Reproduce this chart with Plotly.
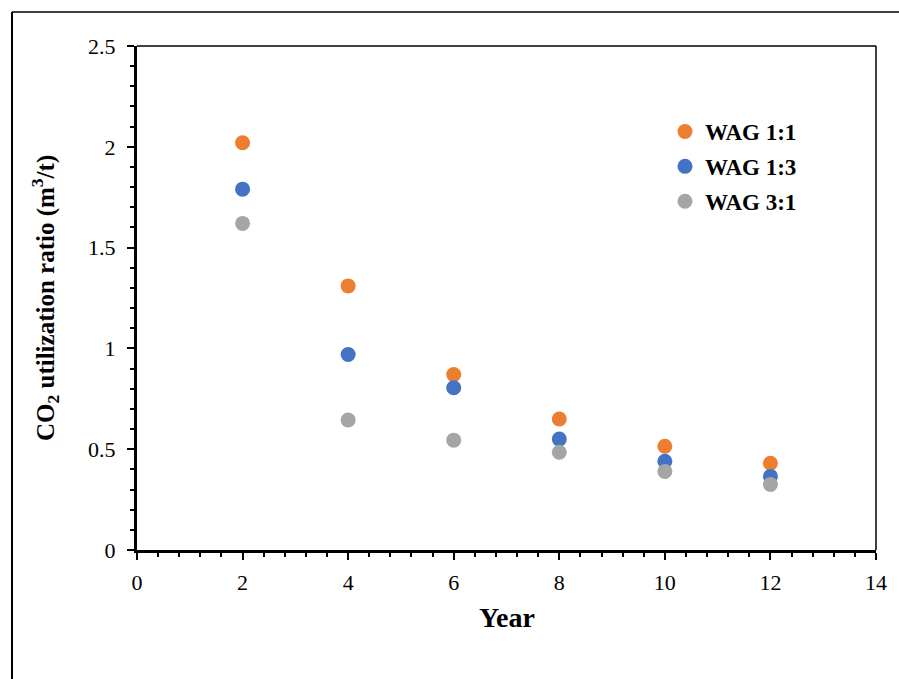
import plotly.graph_objects as go

# Simulation output: CO2 utilization ratio per injection year
years = [2, 4, 6, 8, 10, 12]
wag_1_1 = [2.02, 1.31, 0.87, 0.65, 0.515, 0.43]
wag_1_3 = [1.79, 0.97, 0.805, 0.55, 0.44, 0.365]
wag_3_1 = [1.62, 0.645, 0.545, 0.485, 0.39, 0.325]

series_names = ["WAG 1:1", "WAG 1:3", "WAG 3:1"]
series_values = [wag_1_1, wag_1_3, wag_3_1]
series_colors = ["#ED7D31", "#4472C4", "#A5A5A5"]

W, H = 899, 679
L, R, T, B = 137, 23, 46, 129
pw, ph = W - L - R, H - T - B

FONT = "Liberation Serif"

fig = go.Figure()
for i, (name, vals, col) in enumerate(zip(series_names, series_values, series_colors)):
    fig.add_trace(go.Scatter(
        x=years, y=vals, mode="markers", name=name,
        legendgroup=f"g{i}",
        marker=dict(size=15, color=col, line=dict(width=0)),
        cliponaxis=False,
    ))

axis_common = dict(
    showgrid=False, zeroline=False, showline=True, linecolor="black",
    linewidth=3, ticks="outside", ticklen=7, tickwidth=1.5, tickcolor="black",
    tickfont=dict(family=FONT, size=22, color="black"),
)

fig.update_xaxes(
    range=[0, 14], dtick=2, tick0=0,
    minor=dict(dtick=0.4, tick0=0, ticks="outside", ticklen=4, tickwidth=1.5, tickcolor="black"),
    ticklabelstandoff=4,
    **axis_common,
)
fig.update_yaxes(
    range=[0, 2.5], dtick=0.5, tick0=0,
    minor=dict(dtick=0.1, tick0=0, ticks="outside", ticklen=4, tickwidth=1.5, tickcolor="black"),
    ticklabelstandoff=7,
    **axis_common,
)

def px_x(p):
    return (p - L) / pw

def px_y(p):
    return (H - B - p) / ph

shapes = [
    # plot-area border (top and right)
    dict(type="line", xref="paper", yref="paper", x0=0, x1=1, y0=1, y1=1,
         line=dict(color="black", width=1.5)),
    dict(type="line", xref="paper", yref="paper", x0=1, x1=1, y0=0, y1=1,
         line=dict(color="black", width=1.5)),
    # outer chart frame
    dict(type="line", xref="paper", yref="paper", x0=px_x(12), x1=px_x(W + 5),
         y0=px_y(12), y1=px_y(12), line=dict(color="black", width=1.5)),
    dict(type="line", xref="paper", yref="paper", x0=px_x(12), x1=px_x(12),
         y0=px_y(12), y1=px_y(H + 5), line=dict(color="black", width=2)),
]

annotations = [
    dict(text="Year", xref="paper", yref="paper", x=0.5, y=px_y(617),
         xanchor="center", yanchor="middle", showarrow=False,
         font=dict(family=FONT, size=28, color="black", weight="bold")),
    dict(text="CO<sub>2</sub> utilization ratio (m<sup>3</sup>/t)", xref="paper", yref="paper",
         x=px_x(45), y=0.5, textangle=-90, xanchor="center", yanchor="middle",
         showarrow=False,
         font=dict(family=FONT, size=25, color="black", weight="bold")),
]

fig.update_layout(
    width=W, height=H,
    margin=dict(l=L, r=R, t=T, b=B, pad=0),
    paper_bgcolor="white", plot_bgcolor="white",
    shapes=shapes, annotations=annotations,
    showlegend=True,
    legend=dict(
        x=px_x(665), y=px_y(110), xanchor="left", yanchor="top",
        font=dict(family=FONT, size=23, color="black", weight="bold"),
        bgcolor="rgba(0,0,0,0)", tracegroupgap=2, itemsizing="trace",
    ),
)

fig.write_html("out.html")
